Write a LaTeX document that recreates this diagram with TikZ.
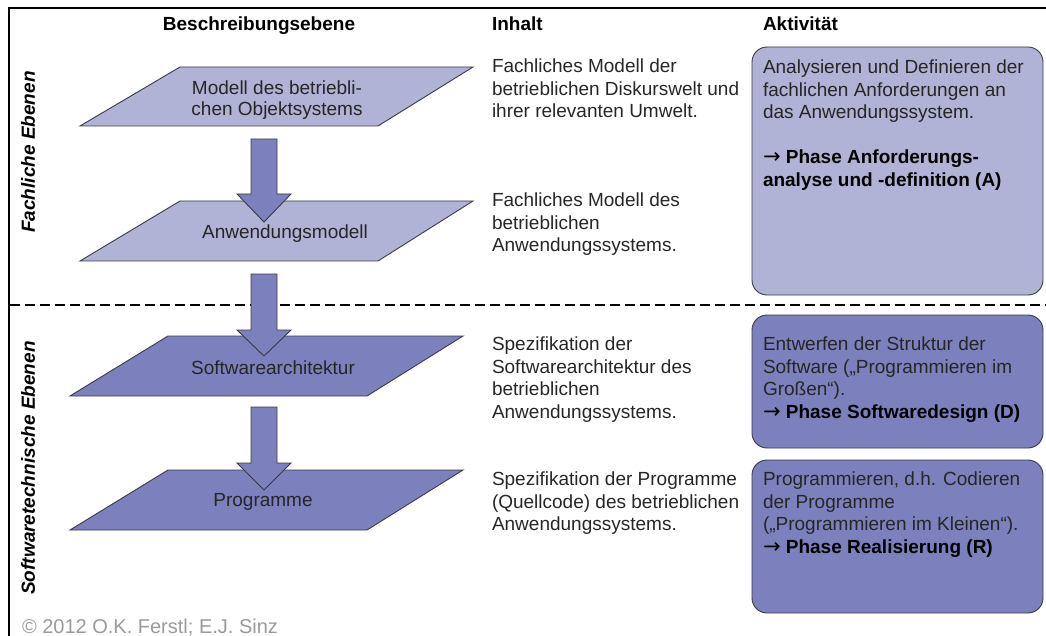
\documentclass[tikz,border=0pt]{standalone}
\usepackage{fontspec}
\setmainfont{Liberation Sans}
\newfontfamily\arrowfont{DejaVu Sans}
\newcommand{\phasearrow}{{\arrowfont\mdseries\fontsize{21}{22.5}\selectfont →}}
\begin{document}
\definecolor{lightlayer}{HTML}{B0B2D6}
\definecolor{darklayer}{HTML}{7C80BC}
\definecolor{edgegray}{HTML}{3A3A4A}
\definecolor{textgray}{HTML}{262626}
\definecolor{copygray}{HTML}{9A9A9A}
\begin{tikzpicture}[x=1pt,y=-1pt,
  every node/.style={inner sep=0pt,outer sep=0pt,text=textgray},
  bodytext/.style={font=\fontsize{19}{22.5}\selectfont,align=left,anchor=north west},
  header/.style={font=\fontsize{19}{22.5}\selectfont\bfseries,text=black,anchor=base},
  layerlabel/.style={font=\fontsize{19}{21}\selectfont,align=center},
  sidelabel/.style={font=\fontsize{19}{22.5}\selectfont\bfseries\itshape,text=black,rotate=90},
  plane/.style={draw=edgegray,line width=0.9pt,line join=miter},
  blockarrow/.style={draw=edgegray,line width=0.9pt,fill=darklayer,line join=miter},
  actbox/.style={draw=edgegray,line width=0.9pt,rounded corners=15pt},
  divider/.style={line width=1.8pt,dash pattern=on 10pt off 5pt},
]
\useasboundingbox (0,0) rectangle (1046,636);

% frame: top and left rule
\draw[line width=1.8pt] (1046,8) -- (9,8) -- (9,636);

% column headers
\node[header] (hBeschr) at (259,31) {Beschreibungsebene};
\node[header,anchor=base west] (hInhalt) at (492,31) {Inhalt};
\node[header,anchor=base west] (hAkt) at (763,31) {Aktivität};

% side labels
\node[sidelabel] (sFach) at (28,152) {Fachliche Ebenen};
\node[sidelabel] (sSoft) at (28,468) {Softwaretechnische Ebenen};

% dividing line between the two groups of levels
\draw[divider] (10,305) -- (1046,305);

% description levels (planes)
\draw[plane,fill=lightlayer] (180,67) -- (473,67) -- (378,126) -- (80,126) -- cycle;
\node[layerlabel] (pObj) at (277,100) {Modell des betriebli-\\chen Objektsystems};
\draw[plane,fill=lightlayer] (180,201) -- (473,201) -- (378,261) -- (80,261) -- cycle;
\draw[plane,fill=darklayer] (168,336) -- (463,336) -- (367,396) -- (70,396) -- cycle;
\draw[plane,fill=darklayer] (168,470) -- (463,470) -- (367,530) -- (70,530) -- cycle;

% block arrows between the levels
\draw[blockarrow] (251,139) -- (277,139) -- (277,194) -- (291,194) -- (264,222)
  -- (237,194) -- (251,194) -- cycle;
\draw[blockarrow] (251,274) -- (277,274) -- (277,330) -- (291,330) -- (264,356)
  -- (237,330) -- (251,330) -- cycle;
\draw[blockarrow] (251,407) -- (277,407) -- (277,463) -- (291,463) -- (264,490)
  -- (237,463) -- (251,463) -- cycle;

\node[layerlabel] (pAnw) at (285,234) {Anwendungsmodell};
\node[layerlabel] (pSoft) at (273,368) {Softwarearchitektur};
\node[layerlabel] (pProg) at (263,502) {Programme};

% content column
\node[bodytext] (iObj) at (492,59) {Fachliches Modell der\\betrieblichen Diskurswelt und\\ihrer relevanten Umwelt.};
\node[bodytext] (iAnw) at (492,193) {Fachliches Modell des\\betrieblichen\\Anwendungssystems.};
\node[bodytext] (iSoft) at (492,337) {Spezifikation der\\Softwarearchitektur des\\betrieblichen\\Anwendungssystems.};
\node[bodytext] (iProg) at (492,472) {Spezifikation der Programme\\(Quellcode) des betrieblichen\\Anwendungssystems.};

% activity column
\draw[actbox,fill=lightlayer] (752,47) rectangle (1043,295);
\draw[actbox,fill=darklayer] (752,315) rectangle (1043,448);
\draw[actbox,fill=darklayer] (752,460) rectangle (1043,613);

\node[bodytext] (aA) at (763,60) {Analysieren und Definieren der\\fachlichen Anforderungen an\\das Anwendungssystem.\\[22.5pt]
  {\bfseries\color{black}\phasearrow\ Phase Anforderungs-}\\{\bfseries\color{black}analyse und -definition (A)}};
\node[bodytext] (aD) at (763,337) {Entwerfen der Struktur der\\Software („Programmieren im\\Großen“).\\
  {\bfseries\color{black}\phasearrow\ Phase Softwaredesign (D)}};
\node[bodytext] (aR) at (763,472) {Programmieren, d.h. Codieren\\der Programme\\(„Programmieren im Kleinen“).\\
  {\bfseries\color{black}\phasearrow\ Phase Realisierung (R)}};

% copyright line
\node[font=\fontsize{20}{24}\selectfont,text=copygray,anchor=base west] (copy) at (22,633) {© 2012 O.K. Ferstl; E.J. Sinz};
\end{tikzpicture}
\end{document}
